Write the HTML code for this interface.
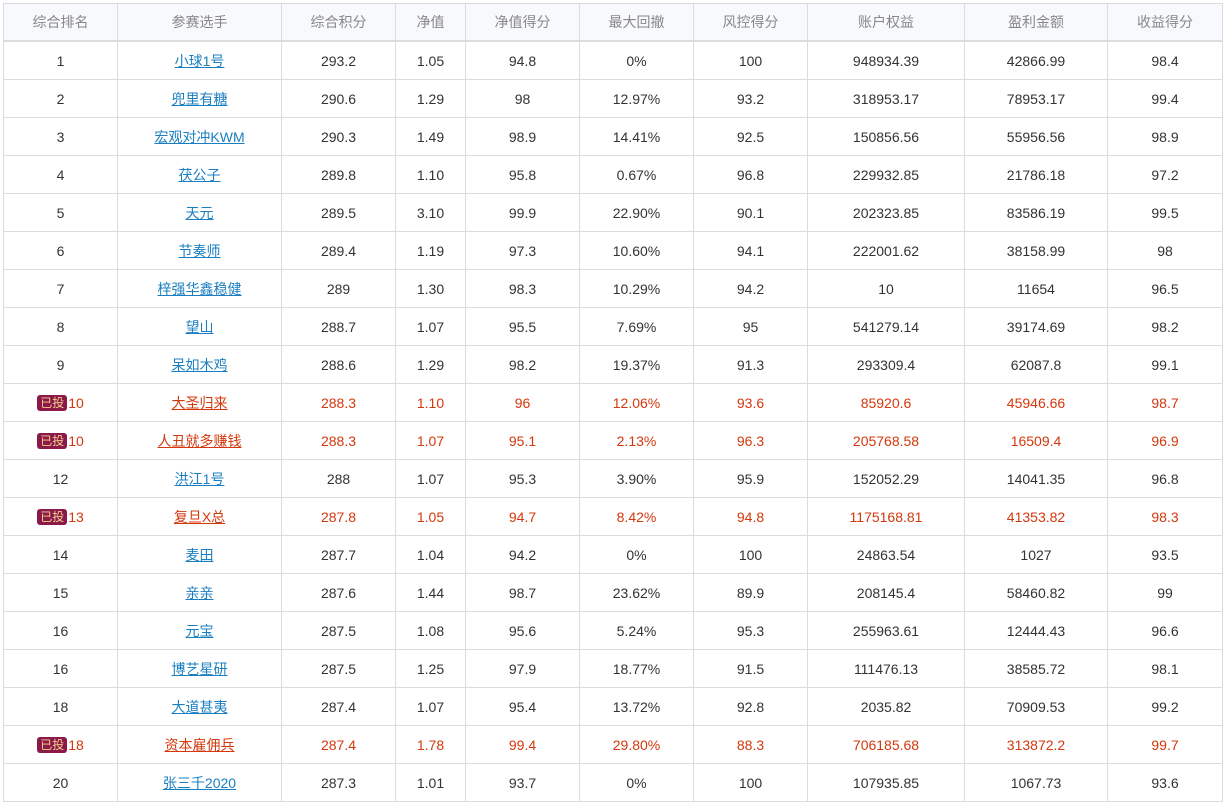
<!DOCTYPE html>
<html><head><meta charset="utf-8">
<style>
body{margin:0;background:#fff;width:1226px;height:804px;overflow:hidden;font-family:"Liberation Sans","Noto Sans CJK SC",sans-serif;}
table{position:absolute;left:3px;top:3px;border-collapse:collapse;table-layout:fixed;font-size:14px;color:#333;}
td,th{border:1px solid #dcdcdc;text-align:center;padding:0;height:37px;white-space:nowrap;}
th{background:#f7f9fc;color:#888;font-weight:normal;height:36px;border-bottom:2px solid #dcdcdc;}
a{color:#1a7fc1;text-decoration:underline;}
tr.r td,tr.r a{color:#d4380d;}
.b{display:inline-block;background:#8b1a4a;color:#f5d08a;font-size:12px;border-radius:3px;padding:0 3px;line-height:16px;margin-right:1px;vertical-align:1px;}
</style></head><body>
<table>
<colgroup><col style="width:114px"><col style="width:164px"><col style="width:114px"><col style="width:70px"><col style="width:114px"><col style="width:114px"><col style="width:114px"><col style="width:157px"><col style="width:143px"><col style="width:115px"></colgroup>
<thead><tr><th>综合排名</th><th>参赛选手</th><th>综合积分</th><th>净值</th><th>净值得分</th><th>最大回撤</th><th>风控得分</th><th>账户权益</th><th>盈利金额</th><th>收益得分</th></tr></thead>
<tbody>
<tr><td>1</td><td><a>小球1号</a></td><td>293.2</td><td>1.05</td><td>94.8</td><td>0%</td><td>100</td><td>948934.39</td><td>42866.99</td><td>98.4</td></tr>
<tr><td>2</td><td><a>兜里有糖</a></td><td>290.6</td><td>1.29</td><td>98</td><td>12.97%</td><td>93.2</td><td>318953.17</td><td>78953.17</td><td>99.4</td></tr>
<tr><td>3</td><td><a>宏观对冲KWM</a></td><td>290.3</td><td>1.49</td><td>98.9</td><td>14.41%</td><td>92.5</td><td>150856.56</td><td>55956.56</td><td>98.9</td></tr>
<tr><td>4</td><td><a>茯公子</a></td><td>289.8</td><td>1.10</td><td>95.8</td><td>0.67%</td><td>96.8</td><td>229932.85</td><td>21786.18</td><td>97.2</td></tr>
<tr><td>5</td><td><a>天元</a></td><td>289.5</td><td>3.10</td><td>99.9</td><td>22.90%</td><td>90.1</td><td>202323.85</td><td>83586.19</td><td>99.5</td></tr>
<tr><td>6</td><td><a>节奏师</a></td><td>289.4</td><td>1.19</td><td>97.3</td><td>10.60%</td><td>94.1</td><td>222001.62</td><td>38158.99</td><td>98</td></tr>
<tr><td>7</td><td><a>梓强华鑫稳健</a></td><td>289</td><td>1.30</td><td>98.3</td><td>10.29%</td><td>94.2</td><td>10</td><td>11654</td><td>96.5</td></tr>
<tr><td>8</td><td><a>望山</a></td><td>288.7</td><td>1.07</td><td>95.5</td><td>7.69%</td><td>95</td><td>541279.14</td><td>39174.69</td><td>98.2</td></tr>
<tr><td>9</td><td><a>呆如木鸡</a></td><td>288.6</td><td>1.29</td><td>98.2</td><td>19.37%</td><td>91.3</td><td>293309.4</td><td>62087.8</td><td>99.1</td></tr>
<tr class="r"><td><span class="b">已投</span>10</td><td><a>大圣归来</a></td><td>288.3</td><td>1.10</td><td>96</td><td>12.06%</td><td>93.6</td><td>85920.6</td><td>45946.66</td><td>98.7</td></tr>
<tr class="r"><td><span class="b">已投</span>10</td><td><a>人丑就多赚钱</a></td><td>288.3</td><td>1.07</td><td>95.1</td><td>2.13%</td><td>96.3</td><td>205768.58</td><td>16509.4</td><td>96.9</td></tr>
<tr><td>12</td><td><a>洪江1号</a></td><td>288</td><td>1.07</td><td>95.3</td><td>3.90%</td><td>95.9</td><td>152052.29</td><td>14041.35</td><td>96.8</td></tr>
<tr class="r"><td><span class="b">已投</span>13</td><td><a>复旦X总</a></td><td>287.8</td><td>1.05</td><td>94.7</td><td>8.42%</td><td>94.8</td><td>1175168.81</td><td>41353.82</td><td>98.3</td></tr>
<tr><td>14</td><td><a>麦田</a></td><td>287.7</td><td>1.04</td><td>94.2</td><td>0%</td><td>100</td><td>24863.54</td><td>1027</td><td>93.5</td></tr>
<tr><td>15</td><td><a>亲亲</a></td><td>287.6</td><td>1.44</td><td>98.7</td><td>23.62%</td><td>89.9</td><td>208145.4</td><td>58460.82</td><td>99</td></tr>
<tr><td>16</td><td><a>元宝</a></td><td>287.5</td><td>1.08</td><td>95.6</td><td>5.24%</td><td>95.3</td><td>255963.61</td><td>12444.43</td><td>96.6</td></tr>
<tr><td>16</td><td><a>博艺星研</a></td><td>287.5</td><td>1.25</td><td>97.9</td><td>18.77%</td><td>91.5</td><td>111476.13</td><td>38585.72</td><td>98.1</td></tr>
<tr><td>18</td><td><a>大道甚夷</a></td><td>287.4</td><td>1.07</td><td>95.4</td><td>13.72%</td><td>92.8</td><td>2035.82</td><td>70909.53</td><td>99.2</td></tr>
<tr class="r"><td><span class="b">已投</span>18</td><td><a>资本雇佣兵</a></td><td>287.4</td><td>1.78</td><td>99.4</td><td>29.80%</td><td>88.3</td><td>706185.68</td><td>313872.2</td><td>99.7</td></tr>
<tr><td>20</td><td><a>张三千2020</a></td><td>287.3</td><td>1.01</td><td>93.7</td><td>0%</td><td>100</td><td>107935.85</td><td>1067.73</td><td>93.6</td></tr>
</tbody></table>
</body></html>
